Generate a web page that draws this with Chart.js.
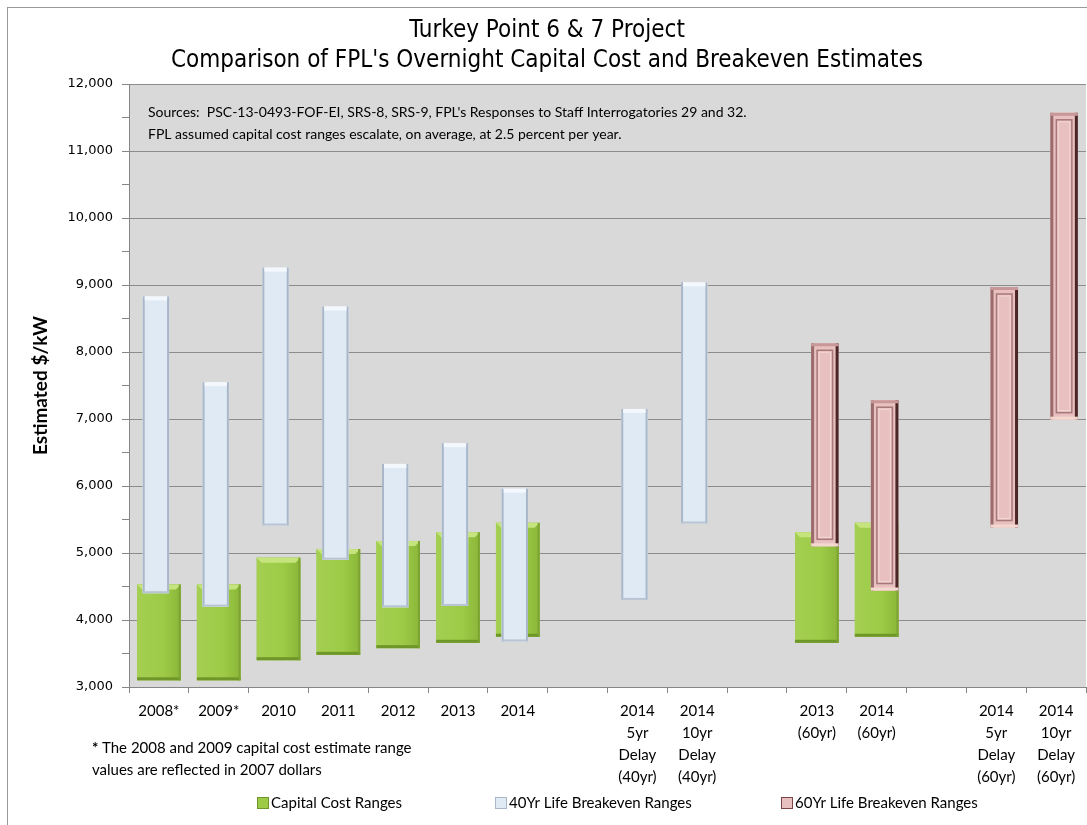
<!DOCTYPE html>
<html>
<head>
<meta charset="utf-8">
<title>Turkey Point 6 &amp; 7 Project</title>
<script src="https://cdn.jsdelivr.net/npm/chart.js@4.4.1/dist/chart.umd.min.js"></script>
<style>
  html, body { margin: 0; padding: 0; background: #fff; }
  #wrap { width: 1087px; height: 825px; }
</style>
</head>
<body>
<div id="wrap"><canvas id="myChart"></canvas></div>
<script>
// categories along the x axis (blank ones are the gaps between groups)
var categories = [
  "2008*", "2009*", "2010", "2011", "2012", "2013", "2014", "",
  ["2014", "5yr", "Delay", "(40yr)"], ["2014", "10yr", "Delay", "(40yr)"], "",
  ["2013", "(60yr)"], ["2014", "(60yr)"], "",
  ["2014", "5yr", "Delay", "(60yr)"], ["2014", "10yr", "Delay", "(60yr)"]
];

// $/kW ranges, low and high end
var capitalLow  = [3100, 3100, 3400, 3480, 3580, 3660, 3750, null, null, null, null, 3660, 3750, null, null, null];
var capitalHigh = [4530, 4530, 4930, 5060, 5180, 5310, 5450, null, null, null, null, 5310, 5450, null, null, null];
var life40Low   = [4400, 4200, 5410, 4900, 4190, 4210, 3680, null, 4300, 5440, null, null, null, null, null, null];
var life40High  = [8830, 7550, 9260, 8680, 6330, 6640, 5960, null, 7150, 9040, null, null, null, null, null, null];
var life60Low   = [null, null, null, null, null, null, null, null, null, null, null, 5100, 4440, null, 5380, 6990];
var life60High  = [null, null, null, null, null, null, null, null, null, null, null, 8130, 7280, null, 8970, 11570];

var yMin = 3000;
var yMax = 12000;
var yStep = 500;

var sourceNote = [
  "Sources:  PSC-13-0493-FOF-EI, SRS-8, SRS-9, FPL's Responses to Staff Interrogatories 29 and 32.",
  "FPL assumed capital cost ranges escalate, on average, at 2.5 percent per year."
];
var footNote = ["The 2008 and 2009 capital cost estimate range", "values are reflected in 2007 dollars"];

function ranges(lo, hi) {
  return lo.map(function (v, i) { return v == null ? null : [v, hi[i]]; });
}

// background, plot fill, frame
var backdrop = {
  id: "backdrop",
  beforeDraw: function (chart) {
    var ctx = chart.ctx, a = chart.chartArea;
    ctx.save();
    ctx.fillStyle = "#fff";
    ctx.fillRect(0, 0, chart.width, chart.height);
    ctx.strokeStyle = "#9a9a9a";
    ctx.lineWidth = 1;
    ctx.strokeRect(7.5, 7.5, chart.width + 20, chart.height + 20);
    ctx.fillStyle = "#d9d9d9";
    ctx.fillRect(a.left, a.top, a.right - a.left, a.bottom - a.top);
    ctx.restore();
  }
};

// nudges the bars sideways and adds the bevel look
var barLook = {
  id: "barLook",
  afterDatasetsUpdate: function (chart) {
    chart.data.datasets.forEach(function (ds, i) {
      if (!ds.shiftX) return;
      chart.getDatasetMeta(i).data.forEach(function (el) { el.x += ds.shiftX; });
    });
  },
  afterDatasetDraw: function (chart, args) {
    var ds = chart.data.datasets[args.index];
    var ctx = chart.ctx;
    ctx.save();
    args.meta.data.forEach(function (el, j) {
      if (ds.data[j] == null) return;
      var p = el.getProps(["x", "y", "base", "width"], true);
      var l = p.x - p.width / 2, r = p.x + p.width / 2;
      var t = Math.min(p.y, p.base), b = Math.max(p.y, p.base);
      var w = r - l, h = b - t, g;
      if (ds.look === "green") {
        g = ctx.createLinearGradient(l, 0, r, 0);
        g.addColorStop(0, "#a4cf52");
        g.addColorStop(0.6, "#9dcb47");
        g.addColorStop(1, "#8ab638");
        ctx.fillStyle = g;
        ctx.fillRect(l, t, w, h);
        ctx.fillStyle = "#c6e47e";
        ctx.beginPath();
        ctx.moveTo(l, t); ctx.lineTo(r, t); ctx.lineTo(r - 5, t + 5); ctx.lineTo(l + 5, t + 5);
        ctx.closePath(); ctx.fill();
        ctx.fillStyle = "#6f9628";
        ctx.fillRect(l, b - 3, w, 3);
        ctx.fillStyle = "#7da432";
        ctx.fillRect(r - 2, t, 2, h);
      } else if (ds.look === "blue") {
        ctx.fillStyle = "#dfeaf5";
        ctx.fillRect(l, t, w, h);
        ctx.fillStyle = "#a9b7c8";
        ctx.fillRect(l, t, 2, h);
        ctx.fillRect(r - 2, t, 2, h);
        ctx.fillStyle = "#f4f8fc";
        ctx.fillRect(l + 2, t, w - 4, 4);
        ctx.fillStyle = "#b8c4d2";
        ctx.fillRect(l, b - 2, w, 2);
      } else if (ds.look === "pink") {
        ctx.fillStyle = "#e9c0c0";
        ctx.fillRect(l, t, w, h);
        ctx.fillStyle = "#9b6b6b";
        ctx.fillRect(l, t, 3, h);
        ctx.fillStyle = "#4b2626";
        ctx.fillRect(r - 3, t, 3, h);
        ctx.fillStyle = "#c89898";
        ctx.fillRect(l, t, w, 3);
        ctx.fillStyle = "#f3d8d0";
        ctx.fillRect(l, b - 3, w, 3);
        ctx.strokeStyle = "#a87878";
        ctx.lineWidth = 1.5;
        ctx.strokeRect(l + 6, t + 7, w - 12, h - 14);
        ctx.strokeStyle = "#f4d6d6";
        ctx.lineWidth = 1;
        ctx.strokeRect(l + 8, t + 9, w - 16, h - 18);
      }
    });
    ctx.restore();
  }
};

// sources text, footnote and legend
var notes = {
  id: "notes",
  afterDraw: function (chart) {
    var ctx = chart.ctx, a = chart.chartArea;
    ctx.save();
    ctx.fillStyle = "#000";
    ctx.textBaseline = "middle";
    ctx.textAlign = "left";
    ctx.font = "14px Lato";
    ctx.fillText(sourceNote[0], a.left + 19, 112);
    ctx.fillText(sourceNote[1], a.left + 19, 134);

    ctx.font = "bold 15px Lato";
    ctx.fillText("*", 92, 748);
    var sw = ctx.measureText("* ").width;
    ctx.font = "15px Lato";
    ctx.fillText(footNote[0], 92 + sw, 748);
    ctx.fillText(footNote[1], 92, 770);

    var legendX = [257, 495, 781];
    chart.data.datasets.forEach(function (ds, i) {
      var x = legendX[i], y = 803;
      ctx.fillStyle = ds.backgroundColor;
      ctx.fillRect(x, y - 6, 12, 12);
      ctx.strokeStyle = ds.borderColor;
      ctx.lineWidth = 1;
      ctx.strokeRect(x + 0.5, y - 5.5, 11, 11);
      ctx.fillStyle = "#000";
      ctx.font = "15px Lato";
      ctx.fillText(ds.label, x + 14, y);
    });
    ctx.restore();
  }
};

new Chart("myChart", {
  type: "bar",
  data: {
    labels: categories,
    datasets: [
      {
        label: "Capital Cost Ranges",
        data: ranges(capitalLow, capitalHigh),
        backgroundColor: "#9dcb47",
        borderColor: "#6f9628",
        look: "green",
        categoryPercentage: 1,
        barPercentage: 0.73,
        order: 3
      },
      {
        label: "40Yr Life Breakeven Ranges",
        data: ranges(life40Low, life40High),
        backgroundColor: "#dfeaf5",
        borderColor: "#a9b7c8",
        look: "blue",
        shiftX: -3,
        categoryPercentage: 1,
        barPercentage: 0.44,
        order: 2
      },
      {
        label: "60Yr Life Breakeven Ranges",
        data: ranges(life60Low, life60High),
        backgroundColor: "#e9c0c0",
        borderColor: "#7a4646",
        look: "pink",
        shiftX: 8,
        categoryPercentage: 1,
        barPercentage: 0.46,
        order: 1
      }
    ]
  },
  options: {
    responsive: true,
    maintainAspectRatio: false,
    animation: false,
    datasets: { bar: { grouped: false } },
    layout: { padding: { top: 10, left: 8, right: 1, bottom: 0 } },
    plugins: {
      legend: { display: false },
      tooltip: { enabled: false },
      title: {
        display: true,
        text: ["Turkey Point 6 & 7 Project", "Comparison of FPL's Overnight Capital Cost and Breakeven Estimates"],
        color: "#000",
        font: { family: "DejaVu Sans Condensed", size: 24, weight: "normal", lineHeight: 1.25 },
        padding: { top: 6, bottom: 8 }
      }
    },
    scales: {
      x: {
        border: { color: "#868686" },
        grid: { drawOnChartArea: false, tickColor: "#868686", tickLength: 6, offset: true },
        ticks: {
          color: "#000",
          autoSkip: false,
          maxRotation: 0,
          padding: 7,
          font: { family: "Lato", size: 15, lineHeight: 1.47 }
        },
        afterFit: function (axis) { axis.height = 138; }
      },
      y: {
        min: yMin,
        max: yMax,
        border: { color: "#868686" },
        grid: {
          color: function (ctx) {
            return ctx.tick && ctx.tick.value % 1000 === 0 ? "#8c8c8c" : "rgba(0,0,0,0)";
          },
          tickColor: "#868686",
          tickLength: 7
        },
        ticks: {
          stepSize: yStep,
          autoSkip: false,
          padding: 9,
          color: "#000",
          font: { family: "DejaVu Sans", size: 13 },
          callback: function (v) { return v % 1000 === 0 ? v.toLocaleString("en-US") : ""; }
        },
        title: {
          display: true,
          text: "Estimated $/kW",
          color: "#000",
          font: { family: "Lato", size: 19, weight: "bold" },
          padding: { top: 21, bottom: 0 }
        },
        afterFit: function (axis) { axis.width = 121; }
      }
    }
  },
  plugins: [backdrop, barLook, notes]
});
</script>
</body>
</html>
